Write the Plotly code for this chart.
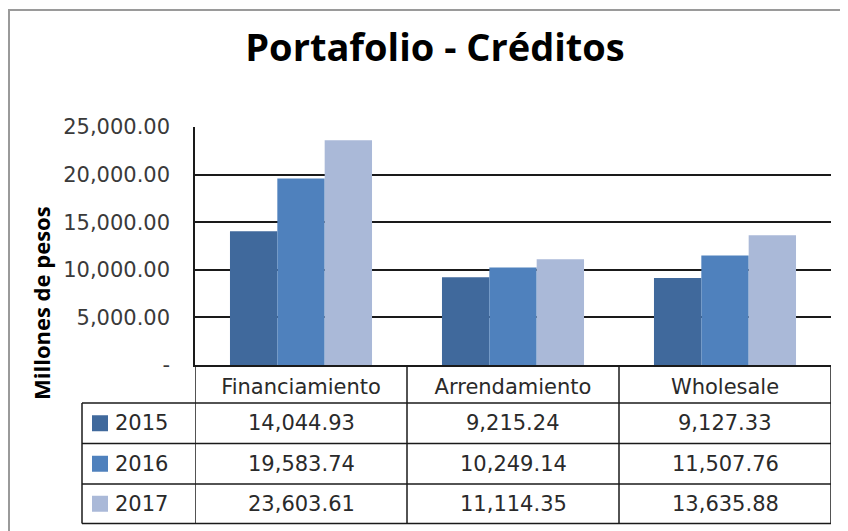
import plotly.graph_objects as go

categories = ["Financiamiento", "Arrendamiento", "Wholesale"]
years = ["2015", "2016", "2017"]
values_2015 = [14044.93, 9215.24, 9127.33]
values_2016 = [19583.74, 10249.14, 11507.76]
values_2017 = [23603.61, 11114.35, 13635.88]
series = [values_2015, values_2016, values_2017]
colors = ["#40699C", "#4F81BD", "#AAB9D8"]
tick_values = [0, 5000, 10000, 15000, 20000, 25000]
tick_labels = ["-", "5,000.00", "10,000.00", "15,000.00", "20,000.00", "25,000.00"]

# page body has an 8px margin; work in screenshot coordinates and shift
OFF = 8
SW, SH = 848, 531
W, H = SW - OFF, SH - OFF
PL, PR, PT, PB = 195, 831, 127, 365  # plot area in screenshot pixels
L, R, T, B = PL - OFF, SW - PR, PT - OFF, SH - PB
PW, PH = PR - PL, PB - PT

def px(xs):
    return (xs - PL) / PW

def py(ys):
    return (PB - ys) / PH

TXT = "DejaVu Sans"
TXT_COLOR = "#2a2a2a"
LINE = "#1a1a1a"

fig = go.Figure()
for name, vals, col in zip(years, series, colors):
    fig.add_trace(go.Bar(x=categories, y=vals, name=name, marker_color=col,
                         marker_line_width=0, showlegend=False))

row_edges = [365, 403, 443.5, 484, 523.5]
table_left = 82
shapes = []
for e in row_edges[1:]:
    shapes.append(dict(type="line", xref="paper", yref="paper", x0=px(table_left), x1=1,
                       y0=py(e), y1=py(e), line=dict(color=LINE, width=1.5)))
for xb in [-0.5, 0.5, 1.5, 2.5]:
    shapes.append(dict(type="line", xref="x", yref="paper", x0=xb, x1=xb,
                       y0=0, y1=py(row_edges[-1]), line=dict(color=LINE, width=1.5)))
shapes.append(dict(type="line", xref="paper", yref="paper", x0=px(table_left), x1=px(table_left),
                   y0=py(row_edges[1]), y1=py(row_edges[-1]), line=dict(color=LINE, width=1.5)))
# outer chart border
shapes.append(dict(type="rect", xref="paper", yref="paper", x0=px(9), x1=px(SW + 30),
                   y0=py(SH + 30), y1=py(10), line=dict(color="#9a9a9a", width=2)))

annotations = []
for i, (name, vals, col) in enumerate(zip(years, series, colors)):
    yc = py((row_edges[i + 1] + row_edges[i + 2]) / 2)
    shapes.append(dict(type="rect", xref="paper", yref="paper", x0=px(92), x1=px(108),
                       y0=yc - 8 / PH, y1=yc + 8 / PH, fillcolor=col, line=dict(width=0)))
    annotations.append(dict(text=name, xref="paper", yref="paper", x=px(113), y=yc,
                            xanchor="left", yanchor="middle", showarrow=False,
                            font=dict(family=TXT, size=21, color=TXT_COLOR)))
    for c, v in zip(categories, vals):
        annotations.append(dict(text=f"{v:,.2f}", xref="x", yref="paper", x=c, y=yc,
                                xanchor="center", yanchor="middle", showarrow=False,
                                font=dict(family=TXT, size=21, color=TXT_COLOR)))

annotations.append(dict(text="<b>Millones de pesos</b>", xref="paper", yref="paper",
                        x=px(41), y=py(303), textangle=-90, showarrow=False,
                        xanchor="center", yanchor="middle",
                        font=dict(family="Open Sans", size=22, color="#000000")))

fig.update_layout(
    width=W, height=H,
    margin=dict(l=L, r=R, t=T, b=B, autoexpand=False),
    paper_bgcolor="white", plot_bgcolor="white",
    barmode="group", bargap=0.33, bargroupgap=0,
    title=dict(text="<b>Portafolio - Créditos</b>", x=(435 - OFF) / W, xref="container",
               y=1 - (48 - OFF) / H, yref="container", xanchor="center", yanchor="middle",
               font=dict(family="Open Sans", size=38, color="#000000")),
    shapes=shapes, annotations=annotations,
    xaxis=dict(range=[-0.5, 2.5], showgrid=False, showline=True, linecolor=LINE,
               linewidth=1.5, ticks="", ticklabelstandoff=2,
               tickfont=dict(family=TXT, size=21, color=TXT_COLOR)),
    yaxis=dict(range=[0, 25000], tickvals=tick_values, ticktext=tick_labels,
               showgrid=True, gridcolor=LINE, gridwidth=1.5,
               showline=True, linecolor=LINE, linewidth=1.5,
               zeroline=False, ticks="", ticklabelstandoff=19,
               tickfont=dict(family=TXT, size=21, color="#3a3a3a")),
)

fig.write_html("out.html")
